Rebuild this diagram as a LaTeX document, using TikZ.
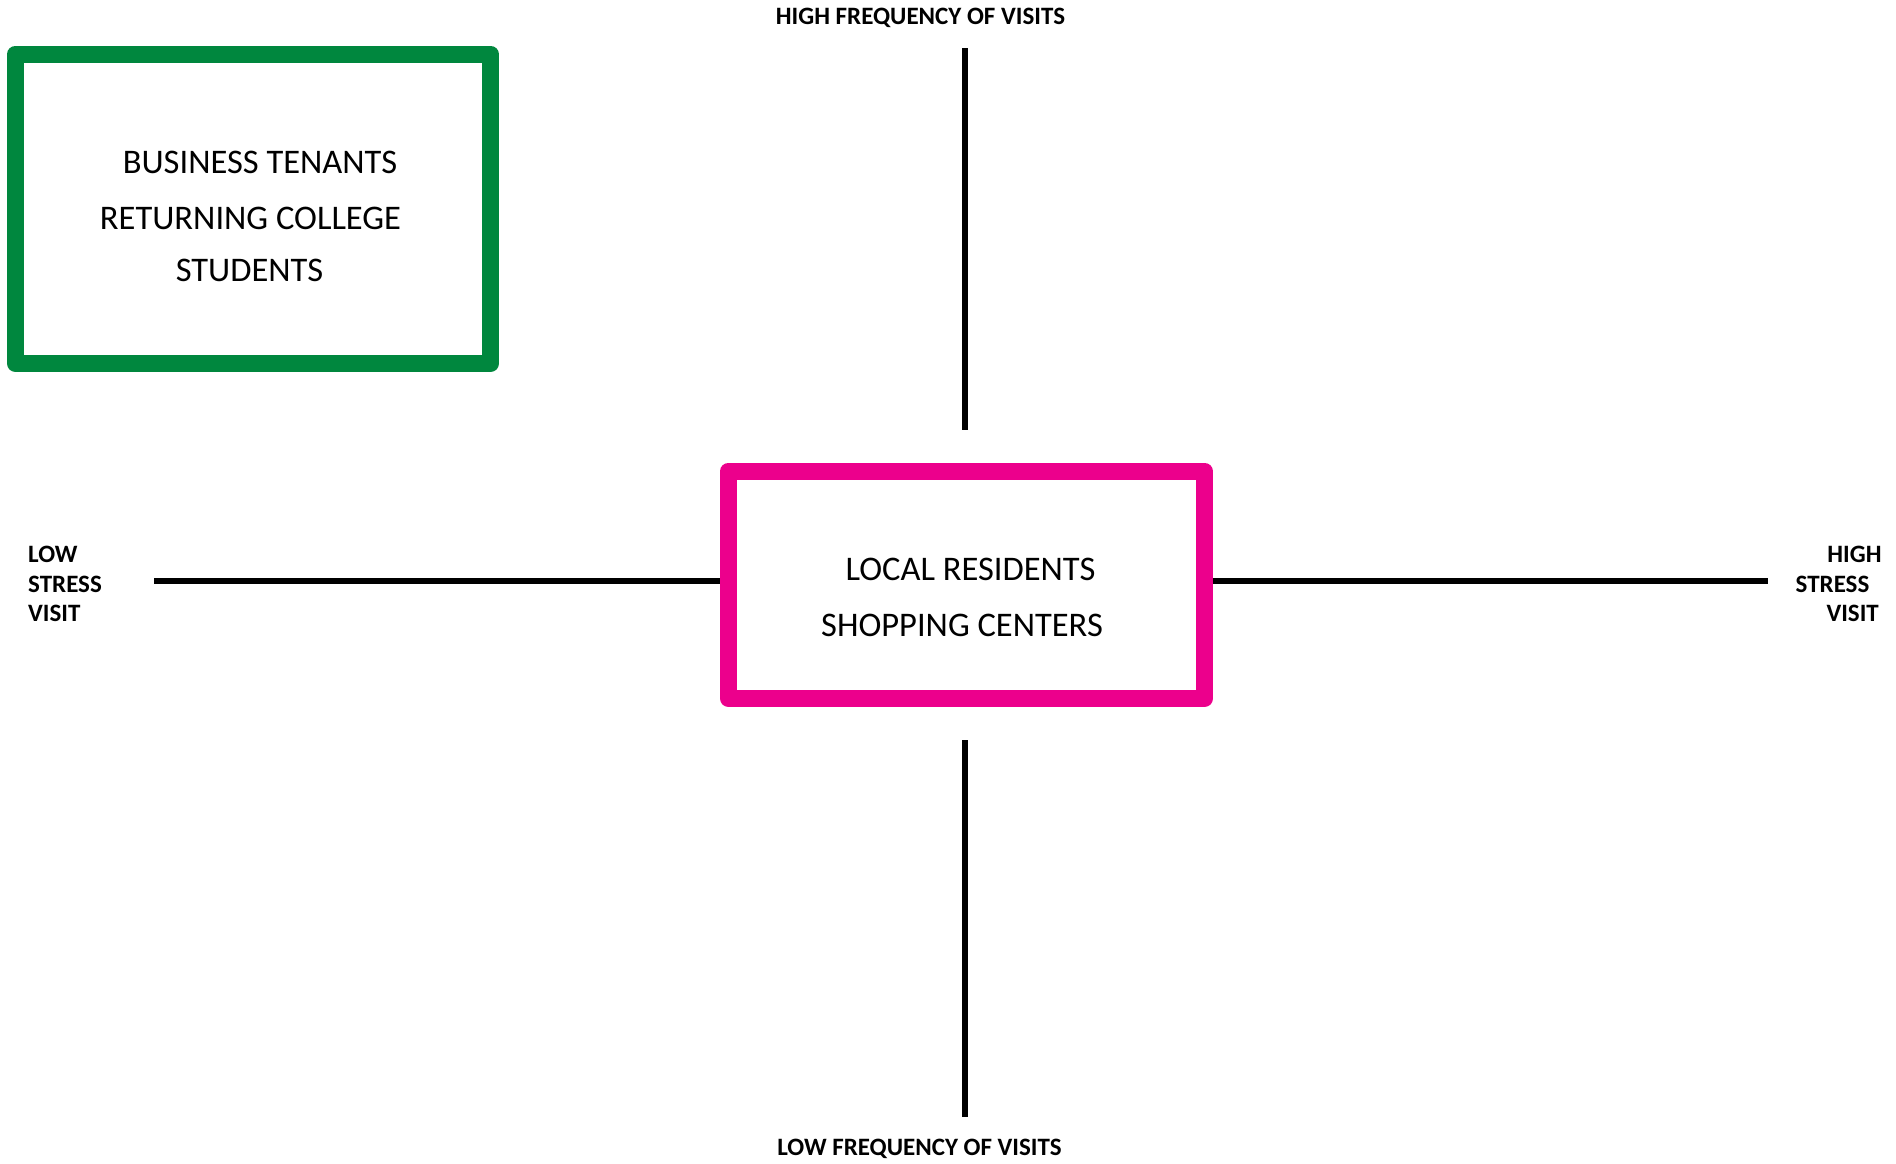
\documentclass[tikz,border=0pt]{standalone}
\usepackage{fontspec}
\setmainfont{Carlito}
\definecolor{boxgreen}{RGB}{0,135,62}
\definecolor{boxpink}{RGB}{236,0,140}
\begin{document}
\begin{tikzpicture}[x=1pt,y=-1pt,
  frame/.style={draw, line width=17pt, line join=round, rectangle, inner sep=0pt},
  axis/.style={line width=6pt},
  boxtext/.style={font=\fontsize{34.5}{40}\selectfont, anchor=base, inner sep=0pt},
  axislabel/.style={font=\bfseries\fontsize{25}{30}\selectfont, inner sep=0pt}]
  % canvas
  \fill[white] (0,0) rectangle (1896,1163);
  \useasboundingbox (0,0) rectangle (1896,1163);

  % quadrant frames
  \node[frame, draw=boxgreen, minimum width=475pt, minimum height=309.5pt] (greenbox) at (253,208.75) {};
  \node[frame, draw=boxpink, minimum width=476pt, minimum height=227.5pt] (pinkbox) at (966.5,584.75) {};

  % frame texts
  \node[boxtext] (g1) at (260,173) {BUSINESS TENANTS};
  \node[boxtext] (g2) at (250.5,229.5) {RETURNING COLLEGE};
  \node[boxtext] (g3) at (249.5,281.5) {STUDENTS};
  \node[boxtext] (p1) at (970.5,580.5) {LOCAL RESIDENTS};
  \node[boxtext] (p2) at (962,636.5) {SHOPPING CENTERS};

  % axis end points
  \coordinate (topA) at (964.7,48.3);
  \coordinate (topB) at (964.7,430);
  \coordinate (botA) at (964.7,740);
  \coordinate (botB) at (964.7,1117);
  \coordinate (leftA) at (154,581.3);
  \coordinate (rightB) at (1768.3,581.3);

  % axes
  \draw[axis] (topA) -- (topB);
  \draw[axis] (botA) -- (botB);
  \draw[axis] (leftA) -- (pinkbox.west |- leftA);
  \draw[axis] (pinkbox.east |- rightB) -- (rightB);

  % axis labels
  \node[axislabel, anchor=base] (hifreq) at (920.5,24) {HIGH FREQUENCY OF VISITS};
  \node[axislabel, anchor=base] (lofreq) at (919.5,1155) {LOW FREQUENCY OF VISITS};
  \node[axislabel, anchor=base west] (ls1) at (28,562) {LOW};
  \node[axislabel, anchor=base west] (ls2) at (28,592) {STRESS};
  \node[axislabel, anchor=base west] (ls3) at (28,621) {VISIT};
  \node[axislabel, anchor=base east] (hs1) at (1881.7,562) {HIGH};
  \node[axislabel, anchor=base east] (hs2) at (1869.5,592) {STRESS};
  \node[axislabel, anchor=base east] (hs3) at (1879,621) {VISIT};
\end{tikzpicture}
\end{document}
